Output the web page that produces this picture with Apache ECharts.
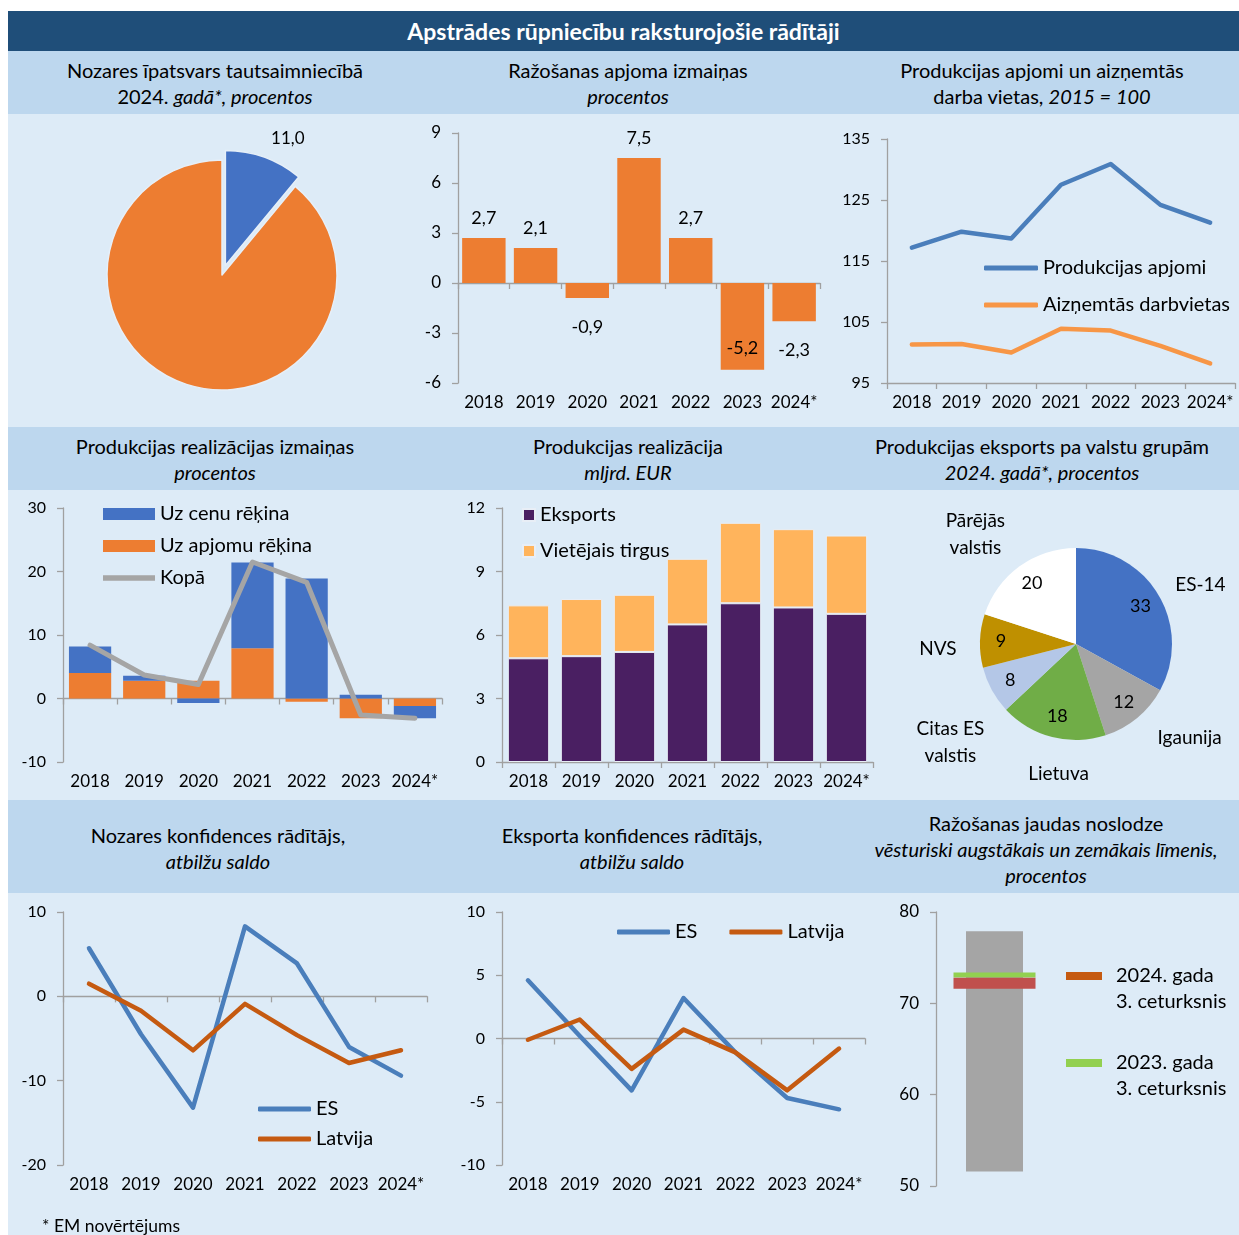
<!DOCTYPE html>
<html><head><meta charset="utf-8">
<script src="https://cdn.jsdelivr.net/npm/echarts@6/dist/echarts.min.js"></script>
<style>
body{margin:0;background:#fff;font-family:Lato,"Open Sans",sans-serif;color:#000;}
#banner{position:absolute;left:8px;top:11px;width:1231px;height:40px;background:#1F4E79;color:#fff;font-weight:bold;font-size:23px;text-align:center;line-height:40px;}
.hdr{position:absolute;left:8px;width:1231px;background:#BDD7EE;}
.panel{position:absolute;left:8px;width:1231px;background:#DDEBF7;}
.ht{position:absolute;width:420px;text-align:center;font-size:20px;line-height:26px;color:#000;white-space:nowrap;}
.ch{position:absolute;}
#foot{position:absolute;left:42px;top:1215px;font-size:17.5px;line-height:22px;}
</style></head>
<body>
<div id="banner">Apstrādes rūpniecību raksturojošie rādītāji</div>
<div class="hdr" style="top:51px;height:63px"></div>
<div class="panel" style="top:114px;height:313px"></div>
<div class="hdr" style="top:427px;height:63px"></div>
<div class="panel" style="top:490px;height:310px"></div>
<div class="hdr" style="top:800px;height:93px"></div>
<div class="panel" style="top:893px;height:342px"></div>

<div class="ht" style="left:5px;top:57px">Nozares īpatsvars tautsaimniecībā<br>2024. <i>gadā*, procentos</i></div>
<div class="ht" style="left:418px;top:57px">Ražošanas apjoma izmaiņas<br><i>procentos</i></div>
<div class="ht" style="left:832px;top:57px">Produkcijas apjomi un aizņemtās<br>darba vietas, <i>2015 = 100</i></div>

<div class="ht" style="left:5px;top:433px">Produkcijas realizācijas izmaiņas<br><i>procentos</i></div>
<div class="ht" style="left:418px;top:433px">Produkcijas realizācija<br><i>mljrd. EUR</i></div>
<div class="ht" style="left:832px;top:433px">Produkcijas eksports pa valstu grupām<br><i>2024. gadā*, procentos</i></div>

<div class="ht" style="left:8px;top:822px">Nozares konfidences rādītājs,<br><i>atbilžu saldo</i></div>
<div class="ht" style="left:422px;top:822px">Eksporta konfidences rādītājs,<br><i>atbilžu saldo</i></div>
<div class="ht" style="left:836px;top:810px">Ražošanas jaudas noslodze<br><i>vēsturiski augstākais un zemākais līmenis,</i><br><i>procentos</i></div>

<div id="c1" class="ch" style="left:8px;top:114px;width:412px;height:313px"></div>
<div id="c2" class="ch" style="left:420px;top:114px;width:410px;height:313px"></div>
<div id="c3" class="ch" style="left:830px;top:114px;width:409px;height:313px"></div>
<div id="c4" class="ch" style="left:8px;top:490px;width:440px;height:310px"></div>
<div id="c5" class="ch" style="left:448px;top:490px;width:430px;height:310px"></div>
<div id="c6" class="ch" style="left:878px;top:490px;width:361px;height:310px"></div>
<div id="c7" class="ch" style="left:8px;top:893px;width:440px;height:342px"></div>
<div id="c8" class="ch" style="left:448px;top:893px;width:430px;height:342px"></div>
<div id="c9" class="ch" style="left:878px;top:893px;width:361px;height:342px"></div>
<div id="foot">* EM novērtējums</div>

<script>
// ---- data ----
const years = ['2018', '2019', '2020', '2021', '2022', '2023', '2024*'];

const shareNames = ['Apstrādes rūpniecība', 'Pārējā tautsaimniecība'];
const shareValues = [11.0, 89.0];

const productionChange = [2.7, 2.1, -0.9, 7.5, 2.7, -5.2, -2.3];

const outputIndex = [117.2, 119.8, 118.7, 127.5, 130.9, 124.2, 121.3];
const jobsIndex = [101.3, 101.4, 100.0, 103.9, 103.6, 101.1, 98.2];

const salesPrice = [4.2, 0.8, -0.7, 13.5, 18.9, 0.6, -1.9];
const salesVolume = [4.0, 2.8, 2.8, 7.9, -0.5, -3.1, -1.2];
const salesTotal = [8.4, 3.7, 2.2, 21.5, 18.3, -2.6, -3.1];

const exportSales = [4.9, 5.0, 5.2, 6.5, 7.5, 7.3, 7.0];
const domesticSales = [2.5, 2.7, 2.7, 3.1, 3.8, 3.7, 3.7];

const exportGroups = ['ES-14', 'Igaunija', 'Lietuva', 'Citas ES\nvalstis', 'NVS', 'Pārējās\nvalstis'];
const exportShares = [33, 12, 18, 8, 9, 20];

const industryConfEU = [5.7, -4.5, -13.2, 8.3, 3.9, -6.0, -9.4];
const industryConfLV = [1.5, -1.7, -6.4, -0.9, -4.6, -7.9, -6.4];

const exportConfEU = [4.6, 0.2, -4.1, 3.2, -1.1, -4.7, -5.6];
const exportConfLV = [-0.1, 1.5, -2.4, 0.7, -1.1, -4.1, -0.8];

const capacityRange = [51.6, 77.9];   // historic low, high
const capacityQuarters = ['2024. gada\n3. ceturksnis', '2023. gada\n3. ceturksnis'];
const capacityValues = [72.2, 73.1];

// ---- styles ----
const FONT = 'Lato, "Open Sans", sans-serif';
const AX = {color: '#A0A0A0', width: 1.3};
const pieColors = ['#4472C4', '#A5A5A5', '#70AD47', '#B4C7E7', '#BF9000', '#FFFFFF'];
const nameNudge = [[2, 13], [23, -16], [18, -8], [-1, 30], [4, 9], [-17, 5]];
const thinBarIcon = 'path://M0,0L52,0L52,0.01L0,0.01Z M0,3.2L52,3.2L52,8.8L0,8.8Z M0,11.99L52,11.99L52,12L0,12Z';
const fmt1 = v => Number(v).toFixed(1).replace('.', ',');

function yAx(min, max, interval, fs) {
  return {type: 'value', min: min, max: max, interval: interval,
    axisLine: {show: true, lineStyle: AX}, axisTick: {show: true, length: 6, lineStyle: AX},
    splitLine: {show: false},
    axisLabel: {fontSize: fs, color: '#000', fontFamily: FONT, margin: 17}};
}
function xZero() {
  return {type: 'category', data: years, axisLine: {onZero: true, lineStyle: AX},
    axisTick: {show: true, length: 6, lineStyle: AX}, axisLabel: {show: false}};
}
function xLabels() {
  return {type: 'category', data: years, position: 'bottom',
    axisLine: {show: false, onZero: false}, axisTick: {show: false},
    axisLabel: {interval: 0, fontSize: 17, color: '#000', fontFamily: FONT, margin: 11}};
}
function init(id) { return echarts.init(document.getElementById(id), null, {renderer: 'canvas'}); }
const lineS = (name, data, color, w) => ({name: name, type: 'line', data: data, symbol: 'none',
  lineStyle: {color: color, width: w, cap: 'round', join: 'round'}, itemStyle: {color: color}, z: 5});
const legText = {fontSize: 20, color: '#000', fontFamily: FONT};

// ---- chart 1: share pie ----
init('c1').setOption({
  animation: false,
  textStyle: {fontFamily: FONT},
  series: [{type: 'pie', center: [214, 161], radius: 115, startAngle: 90, clockwise: true,
    selectedMode: 'single', selectedOffset: 10,
    itemStyle: {borderColor: '#E6EFF8', borderWidth: 1.5},
    label: {show: true, position: 'outside', fontSize: 17, color: '#000', fontFamily: FONT,
      distanceToLabelLine: 0, formatter: p => fmt1(p.value)},
    labelLine: {show: false, length: 20, length2: 0},
    data: shareValues.map((v, i) => ({name: shareNames[i], value: v, selected: i === 0,
      itemStyle: {color: i === 0 ? '#4472C4' : '#ED7D31'},
      label: {show: i === 0}}))
  }]
});

// ---- chart 2: production change ----
init('c2').setOption({
  animation: false,
  textStyle: {fontFamily: FONT},
  grid: {left: 38, right: 10, top: 19, bottom: 44},
  xAxis: [xZero(), xLabels()],
  yAxis: yAx(-6, 9, 3, 17),
  series: [{type: 'bar', barCategoryGap: '16%', itemStyle: {color: '#ED7D31'},
    label: {show: true, fontSize: 18, color: '#000', fontFamily: FONT, formatter: p => fmt1(p.value)},
    data: productionChange.map(v => ({value: v,
      label: v >= 0 ? {position: 'top', distance: 11}
        : (v < -4 ? {position: 'insideBottom', distance: 12} : {position: 'bottom', distance: 20})}))
  }]
});

// ---- chart 3: indices ----
init('c3').setOption({
  animation: false,
  textStyle: {fontFamily: FONT},
  grid: {left: 57, right: 4, top: 25, bottom: 44},
  legend: {orient: 'vertical', left: 149, top: 139, itemWidth: 54, itemHeight: 5, itemGap: 17,
    textStyle: legText,
    data: [{name: 'Produkcijas apjomi', icon: 'roundRect'}, {name: 'Aizņemtās darbvietas', icon: 'roundRect'}]},
  xAxis: {type: 'category', data: years, axisLine: {lineStyle: AX},
    axisTick: {show: true, length: 6, lineStyle: AX},
    axisLabel: {interval: 0, fontSize: 17, color: '#000', fontFamily: FONT, margin: 11}},
  yAxis: yAx(95, 135, 10, 16),
  series: [lineS('Produkcijas apjomi', outputIndex, '#4A7EBB', 4.5),
           lineS('Aizņemtās darbvietas', jobsIndex, '#F79646', 4.5)]
});

// ---- chart 4: sales change ----
init('c4').setOption({
  animation: false,
  textStyle: {fontFamily: FONT},
  grid: {left: 55, right: 6, top: 18, bottom: 38},
  legend: {orient: 'vertical', left: 90, top: 9, itemWidth: 52, itemHeight: 12, itemGap: 12,
    textStyle: legText,
    data: [{name: 'Uz cenu rēķina', icon: 'rect'}, {name: 'Uz apjomu rēķina', icon: 'rect'},
           {name: 'Kopā', icon: thinBarIcon}]},
  xAxis: [xZero(), xLabels()],
  yAxis: yAx(-10, 30, 10, 16),
  series: [
    {name: 'Uz apjomu rēķina', type: 'bar', stack: 's', data: salesVolume, barCategoryGap: '22%',
      itemStyle: {color: '#ED7D31'}},
    {name: 'Uz cenu rēķina', type: 'bar', stack: 's', data: salesPrice, itemStyle: {color: '#4472C4'}},
    lineS('Kopā', salesTotal, '#A5A5A5', 5)
  ]
});

// ---- chart 5: sales ----
init('c5').setOption({
  animation: false,
  textStyle: {fontFamily: FONT},
  grid: {left: 54, right: 5, top: 18, bottom: 38},
  legend: {orient: 'vertical', left: 69, top: 10, itemWidth: 12, itemHeight: 12, itemGap: 16, icon: 'rect',
    textStyle: legText,
    data: ['Eksports', 'Vietējais tirgus']},
  xAxis: {type: 'category', data: years, axisLine: {lineStyle: AX},
    axisTick: {show: true, length: 6, lineStyle: AX},
    axisLabel: {interval: 0, fontSize: 17, color: '#000', fontFamily: FONT, margin: 11}},
  yAxis: yAx(0, 12, 3, 16),
  series: [
    {name: 'Eksports', type: 'bar', stack: 't', data: exportSales, barCategoryGap: '22%',
      itemStyle: {color: '#4A1F62', borderColor: '#E8EEF6', borderWidth: 1}},
    {name: 'Vietējais tirgus', type: 'bar', stack: 't', data: domesticSales,
      itemStyle: {color: '#FFB45C', borderColor: '#E8EEF6', borderWidth: 1}}
  ]
});

// ---- chart 6: export pie ----
const R6 = 96, C6 = [198, 154];
const pieData = exportShares.map((v, i) => ({name: exportGroups[i], value: v}));
init('c6').setOption({
  animation: false,
  textStyle: {fontFamily: FONT},
  series: [
    {type: 'pie', center: C6, radius: R6, startAngle: 90, silent: true,
      label: {show: false}, labelLine: {show: false},
      data: pieData.map((d, i) => ({name: d.name, value: d.value, itemStyle: {color: pieColors[i]}}))},
    {type: 'pie', center: C6, radius: [R6 * 0.5, R6], startAngle: 90, silent: true,
      itemStyle: {color: 'rgba(0,0,0,0)'}, labelLine: {show: false},
      label: {show: true, position: 'inside', formatter: '{c}', fontSize: 18, color: '#000', fontFamily: FONT},
      data: pieData},
    {type: 'pie', center: C6, radius: [R6 * 1.3, R6 * 1.6], startAngle: 90, silent: true,
      itemStyle: {color: 'rgba(0,0,0,0)'}, labelLine: {show: false},
      label: {show: true, position: 'inside', formatter: '{b}', fontSize: 19, lineHeight: 27, color: '#000', fontFamily: FONT},
      labelLayout: p => ({dx: nameNudge[p.dataIndex][0], dy: nameNudge[p.dataIndex][1]}),
      data: pieData}
  ]
});

// ---- chart 7: industry confidence ----
init('c7').setOption({
  animation: false,
  textStyle: {fontFamily: FONT},
  grid: {left: 55, right: 21, top: 19, bottom: 70},
  legend: {orient: 'vertical', left: 245, top: 201, itemWidth: 53, itemHeight: 5, itemGap: 10,
    textStyle: legText,
    data: [{name: 'ES', icon: 'roundRect'}, {name: 'Latvija', icon: 'roundRect'}]},
  xAxis: [xZero(), xLabels()],
  yAxis: yAx(-20, 10, 10, 16),
  series: [lineS('ES', industryConfEU, '#4A7EBB', 4.5), lineS('Latvija', industryConfLV, '#C55A11', 4.5)]
});

// ---- chart 8: export confidence ----
init('c8').setOption({
  animation: false,
  textStyle: {fontFamily: FONT},
  grid: {left: 54, right: 13, top: 19, bottom: 70},
  legend: {orient: 'horizontal', left: 164, top: 24, itemWidth: 53, itemHeight: 5, itemGap: 32,
    textStyle: legText,
    data: [{name: 'ES', icon: 'roundRect'}, {name: 'Latvija', icon: 'roundRect'}]},
  xAxis: [xZero(), xLabels()],
  yAxis: yAx(-10, 10, 5, 16),
  series: [lineS('ES', exportConfEU, '#4A7EBB', 4.5), lineS('Latvija', exportConfLV, '#C55A11', 4.5)]
});

// ---- chart 9: capacity utilisation ----
init('c9').setOption({
  animation: false,
  textStyle: {fontFamily: FONT},
  grid: {left: 58, right: 186, top: 19, bottom: 49},
  legend: {orient: 'vertical', left: 183, top: 39, itemWidth: 36, itemHeight: 8, itemGap: 9, icon: 'rect',
    formatter: n => '\n' + n,
    textStyle: {fontSize: 20, lineHeight: 26, color: '#000', fontFamily: FONT, padding: [0, 0, 0, 9]},
    data: [{name: capacityQuarters[0], itemStyle: {color: '#C55A11'}},
           {name: capacityQuarters[1], itemStyle: {color: '#92D050'}}]},
  xAxis: {type: 'category', data: ['noslodze'], show: false},
  yAxis: yAx(50, 80, 10, 17),
  series: [
    {type: 'bar', stack: 'r', data: [capacityRange[0]], barWidth: 57, itemStyle: {color: 'rgba(0,0,0,0)'}, silent: true},
    {type: 'bar', stack: 'r', data: [capacityRange[1] - capacityRange[0]], barWidth: 57, itemStyle: {color: '#A5A5A5'}},
    {name: capacityQuarters[1], type: 'scatter', data: [capacityValues[1]], symbol: 'rect', symbolSize: [82, 5],
      itemStyle: {color: '#92D050', opacity: 1}, z: 4},
    {name: capacityQuarters[0], type: 'scatter', data: [capacityValues[0]], symbol: 'rect', symbolSize: [82, 11],
      itemStyle: {color: '#C0504D', opacity: 1}, z: 5}
  ]
});
</script>
</body></html>
